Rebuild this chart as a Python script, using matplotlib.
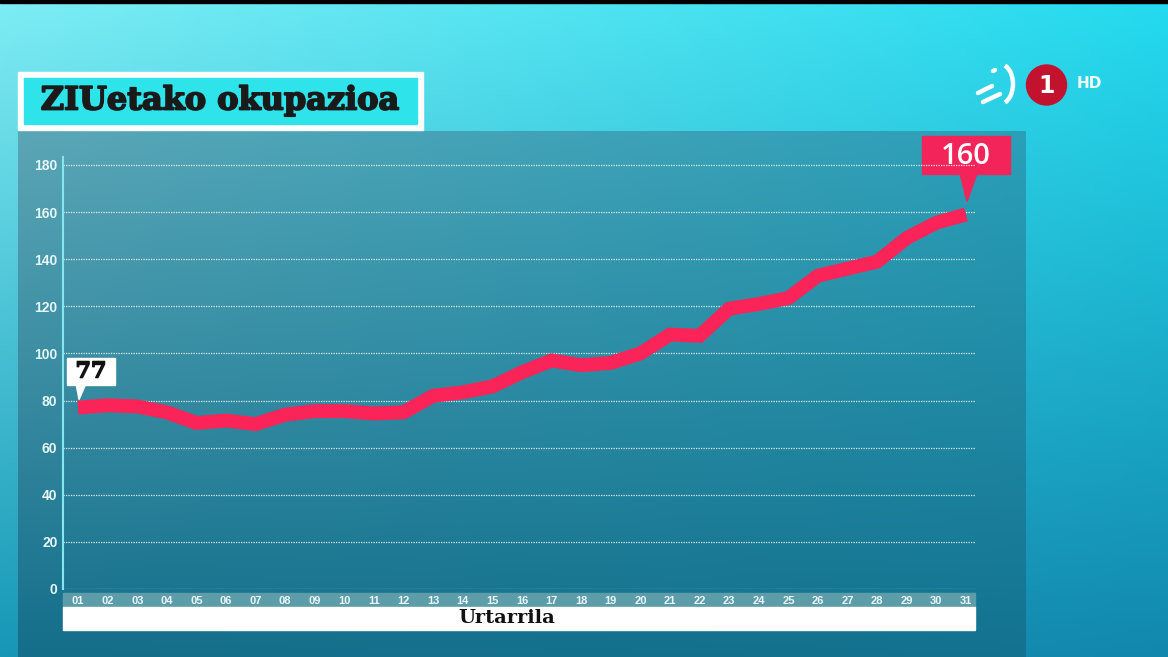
import numpy as np
import matplotlib
matplotlib.use("Agg")
import matplotlib.pyplot as plt
import matplotlib.patheffects as pe
from matplotlib.patches import Rectangle, Polygon, Circle, Arc
from matplotlib.colors import to_rgb

# ---------------- data ----------------
days = list(range(1, 32))
day_labels = [f"{d:02d}" for d in days]
occupancy = [77, 78, 77.5, 75, 70.5, 71.5, 70, 74, 75.5, 75.5, 74.5, 75,
             82, 83.5, 86, 92, 97, 95, 96, 100, 108, 107.5, 119, 121,
             123.5, 133, 136, 139, 149, 155.5, 159]
y_ticks = [0, 20, 40, 60, 80, 100, 120, 140, 160, 180]
title = "ZIUetako okupazioa"
x_title = "Urtarrila"
first_label = "77"
last_label = "160"

W, H = 1168, 657
fig = plt.figure(figsize=(W / 100, H / 100), dpi=100)

# background axes in pixel coords
bg = fig.add_axes([0, 0, 1, 1])
bg.set_xlim(0, W)
bg.set_ylim(H, 0)
bg.axis("off")


def bilinear(tl, tr, bl, br, h, w):
    tl, tr, bl, br = map(lambda c: np.array(to_rgb(c)), (tl, tr, bl, br))
    yy = np.linspace(0, 1, h)[:, None, None]
    xx = np.linspace(0, 1, w)[None, :, None]
    top = tl * (1 - xx) + tr * xx
    bot = bl * (1 - xx) + br * xx
    return top * (1 - yy) + bot * yy


img = bilinear("#7EEDF4", "#24DBEF", "#1797B6", "#1287AD", 200, 300)
bg.imshow(img, extent=[0, W, H, 0], aspect="auto", zorder=0)
bg.add_patch(Rectangle((0, 0), W, 3, color="black", zorder=1))

# chart panel
panel = bilinear("#5BA6B6", "#2AA0B9", "#146E8A", "#13728F", 200, 300)
bg.imshow(panel, extent=[18, 1026, H, 131], aspect="auto", zorder=1)

# title box
bg.add_patch(Rectangle((18, 72), 405, 58, color="white", zorder=3))
bg.add_patch(Rectangle((24, 78), 393, 46, color="#2EE3EA", zorder=4))
bg.text(220, 101, title, fontsize=23, fontweight="bold", family="DejaVu Serif",
        color="#1a1a1a", ha="center", va="center", zorder=5,
        path_effects=[pe.withStroke(linewidth=1.3, foreground="#1a1a1a")])

# logo
bg.add_patch(Circle((1046.5, 85), 20, color="#C3122E", zorder=3))
bg.text(1046.5, 86, "1", color="white", fontsize=17, fontweight="bold",
        family="DejaVu Sans", ha="center", va="center", zorder=4)
bg.text(1089, 84, "HD", color="#EFFFFF", fontsize=11, fontweight="bold",
        family="DejaVu Sans", ha="center", va="center", zorder=4)
bg.add_patch(Arc((1000, 84), 26, 40, theta1=-75, theta2=75, color="white",
                 lw=3.2, zorder=4))
bg.plot([978, 992], [93, 86], color="white", lw=3.2, solid_capstyle="round", zorder=4)
bg.plot([983, 1000], [102, 94], color="white", lw=3.2, solid_capstyle="round", zorder=4)
bg.plot([993, 995], [71, 70], color="white", lw=3.2, solid_capstyle="round", zorder=4)

# x label bands
bg.add_patch(Rectangle((63, 593), 912, 14, color="#5C9DA9", zorder=3))
bg.add_patch(Rectangle((63, 607), 912, 23, color="white", zorder=3))
bg.text(507, 618, x_title, fontsize=14, family="DejaVu Serif", fontweight="semibold",
        color="#111111", ha="center", va="center", zorder=4)

# chart axes
px_per = 424 / 180.0
top_px = 157
y_top = (589 - top_px) / px_per
ax = fig.add_axes([63 / W, (H - 589) / H, 912 / W, (589 - top_px) / H])
ax.set_facecolor("none")
step = 888 / 30
ax.set_xlim(1 - 15 / step, 31 + 9 / step)
ax.set_ylim(0, y_top)
ax.set_yticks(y_ticks)
ax.set_yticklabels([str(t) for t in y_ticks], fontsize=10, fontweight="bold",
                   family="Liberation Sans", color="#E6F6F8")
ax.tick_params(axis="y", length=0, pad=4)
ax.set_xticks(days)
ax.set_xticklabels(day_labels, fontsize=8, fontweight="bold",
                   family="Liberation Sans", color="#EAF6F8")
ax.tick_params(axis="x", length=0, pad=5)
for s in ["top", "right", "bottom"]:
    ax.spines[s].set_visible(False)
ax.spines["left"].set_color("#86E6F0")
ax.spines["left"].set_linewidth(1.5)
ax.grid(axis="y", color="white", linestyle=(0, (1, 1)), linewidth=0.9, alpha=0.85)
ax.set_axisbelow(True)
ax.plot(days, occupancy, color="#FB2458", lw=10, solid_joinstyle="miter",
        solid_capstyle="butt", zorder=5, clip_on=False)

# callouts in pixel coords
def to_px(x, y):
    d = ax.transData.transform((x, y))
    return bg.transData.inverted().transform(d)

fx, fy = to_px(days[0], occupancy[0])
bg.add_patch(Rectangle((fx - 11, fy - 50), 48, 27, color="white", zorder=6))
bg.add_patch(Polygon([[fx - 2, fy - 24], [fx + 8, fy - 24], [fx + 1, fy - 8]],
                     color="white", zorder=6))
bg.text(fx + 13, fy - 36, first_label, fontsize=16, fontweight="bold",
        family="DejaVu Serif", color="#111111", ha="center", va="center", zorder=7,
        path_effects=[pe.withStroke(linewidth=1.0, foreground="#111111")])

lx, ly = to_px(days[-1], occupancy[-1])
bg.add_patch(Rectangle((lx - 44, ly - 78), 88, 38, color="#F3245A", zorder=6))
bg.add_patch(Polygon([[lx - 6, ly - 41], [lx + 11, ly - 41], [lx + 1, ly - 13]],
                     color="#F3245A", zorder=6))
bg.text(lx, ly - 58, last_label, fontsize=21, fontweight="semibold",
        family="Open Sans", color="white", ha="center", va="center", zorder=7)

fig.savefig("out.png", dpi=100)
